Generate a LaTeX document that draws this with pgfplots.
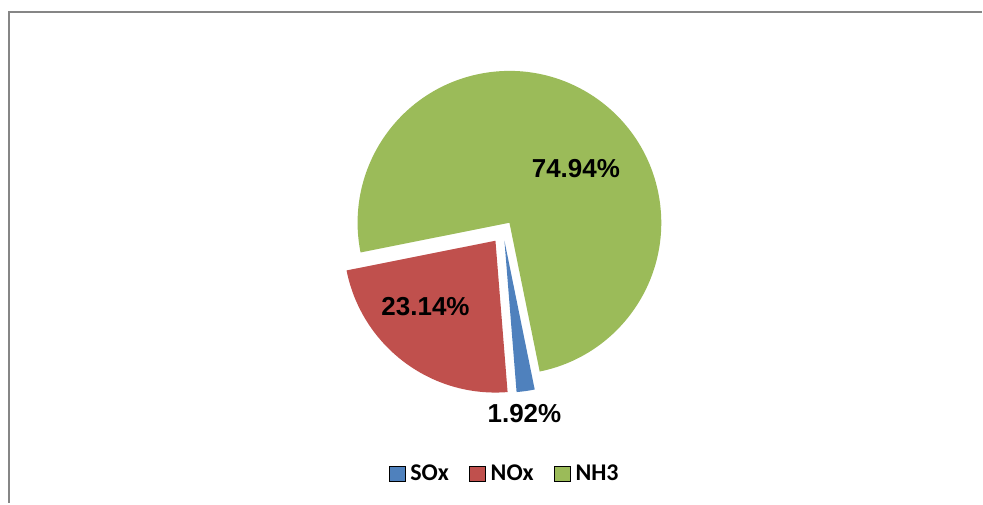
\documentclass[border=0pt]{standalone}
\usepackage{pgfplots}
\usepackage{pgfplotstable}
\usepackage{fontspec}
\pgfplotsset{compat=1.18}
\newfontfamily\labfont{Liberation Sans}
\newfontfamily\legfont{Carlito}
\definecolor{soxc}{HTML}{4F81BD}
\definecolor{noxc}{HTML}{C0504D}
\definecolor{nhc}{HTML}{9BBB59}
\definecolor{framec}{RGB}{134,134,134}
\pgfplotstableread{
label value
SOx 1.92
NOx 23.14
NH3 74.94
}\piedata
\begin{document}
\begin{tikzpicture}
\pgfplotstablegetelem{0}{value}\of\piedata \let\vSOx\pgfplotsretval
\pgfplotstablegetelem{1}{value}\of\piedata \let\vNOx\pgfplotsretval
\pgfplotstablegetelem{2}{value}\of\piedata \let\vNH\pgfplotsretval
\pgfmathsetmacro\aA{-78.5}
\pgfmathsetmacro\aB{\aA-3.6*\vSOx}
\pgfmathsetmacro\aC{\aB-3.6*\vNOx}
\pgfmathsetmacro\aD{\aC-3.6*\vNH}
\begin{axis}[
  scale only axis, width=491.5bp, height=252bp,
  xmin=0, xmax=983, ymin=0, ymax=504,
  axis lines=none, clip=false,
  legend columns=3,
  legend image code/.code={\fill[#1] (0bp,-3.75bp) rectangle (8bp,3.75bp); \path (9.2bp,0bp);},
  legend style={at={(0.5142,0.0585)}, anchor=center, draw=none, fill=none,
    font=\legfont\bfseries\fontsize{12bp}{14bp}\selectfont,
    inner sep=0pt, nodes={inner sep=1.2bp},
    /tikz/every even column/.append style={column sep=9bp}},
]
\path (axis cs:0,0) rectangle (axis cs:983,504);
\draw[framec, line width=1.1bp] (axis cs:983,492) -- (axis cs:9,492) -- (axis cs:9,0);
% NH3 (not exploded)
\fill[nhc] (axis cs:510,281) -- ++(\aC:76bp) arc[start angle=\aC, end angle=\aD, radius=76bp] -- cycle;
% NOx (exploded)
\fill[noxc] (axis cs:496,263) -- ++(\aB:76bp) arc[start angle=\aB, end angle=\aC, radius=76bp] -- cycle;
% SOx (exploded)
\fill[soxc] (axis cs:505,263) -- ++(\aA:76bp) arc[start angle=\aA, end angle=\aB, radius=76bp] -- cycle;
\node[font=\labfont\bfseries\fontsize{13bp}{15bp}\selectfont] at (axis cs:576.5,335.5) {\vNH\%};
\node[font=\labfont\bfseries\fontsize{13bp}{15bp}\selectfont] at (axis cs:426,197) {\vNOx\%};
\node[font=\labfont\bfseries\fontsize{13bp}{15bp}\selectfont] at (axis cs:525,90) {\vSOx\%};
\addlegendimage{fill=soxc}
\addlegendentry{SOx}
\addlegendimage{fill=noxc}
\addlegendentry{NOx}
\addlegendimage{fill=nhc}
\addlegendentry{NH3}
\end{axis}
\end{tikzpicture}
\end{document}
